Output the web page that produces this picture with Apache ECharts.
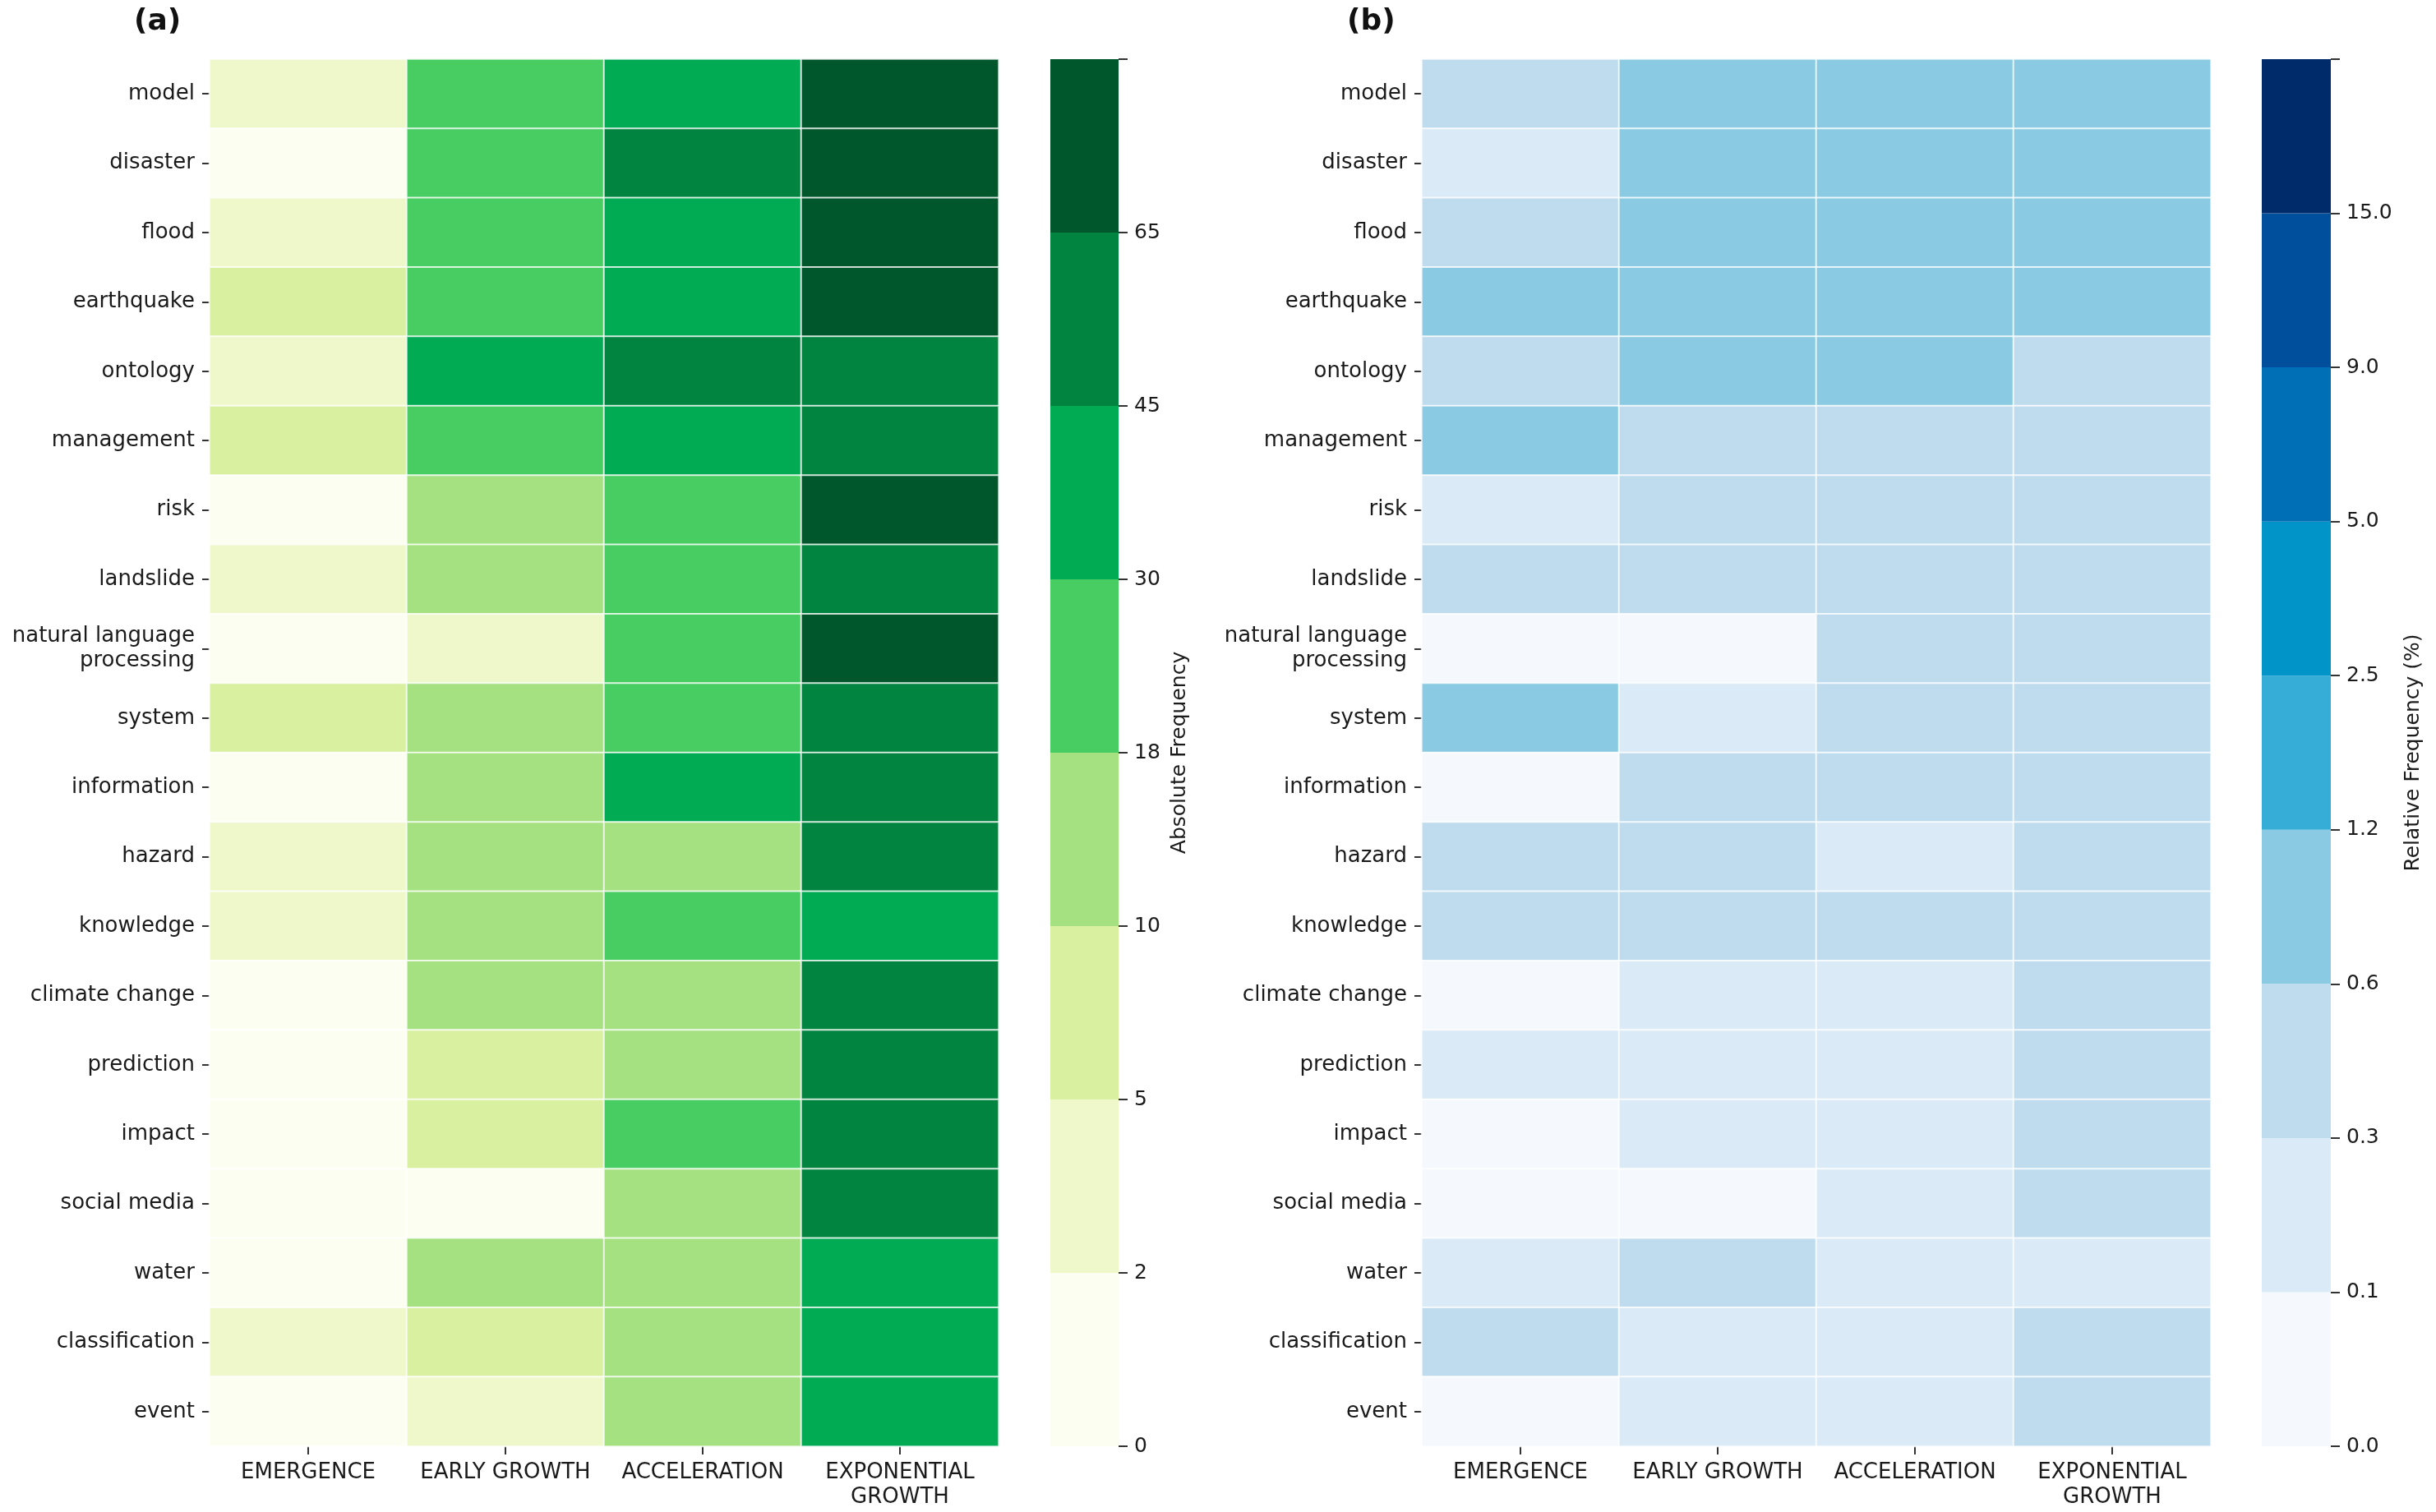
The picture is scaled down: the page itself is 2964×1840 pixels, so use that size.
<!DOCTYPE html>
<html><head><meta charset="utf-8">
<script src="https://cdn.jsdelivr.net/npm/echarts@6/dist/echarts.min.js"></script>
<style>html,body{margin:0;padding:0;background:#fff}#c{width:2964px;height:1840px}</style>
</head><body><div id="c"></div>
<script>
// ---- data ----
const terms = ['model','disaster','flood','earthquake','ontology','management','risk','landslide',
  'natural language\nprocessing','system','information','hazard','knowledge','climate change',
  'prediction','impact','social media','water','classification','event'];
const phases = ['EMERGENCE','EARLY GROWTH','ACCELERATION','EXPONENTIAL\nGROWTH'];

// Absolute frequency per phase (same order as terms)
const absEmergence   = [3,1,4,6,3,7,1,4,1,8,1,3,3,1,1,0,0,1,4,1];
const absEarly       = [26,24,25,22,33,27,15,13,4,16,14,12,12,13,9,8,1,11,9,3];
const absAccel       = [40,52,38,36,50,41,28,25,23,24,34,16,20,15,14,21,12,13,12,11];
const absExponential = [80,76,73,71,56,60,69,58,67,52,55,49,42,54,50,48,47,40,37,35];

// Relative frequency (%) per phase
const relEmergence   = [0.45,0.2,0.5,0.9,0.45,1.0,0.15,0.5,0.05,1.1,0.05,0.45,0.42,0.05,0.15,0.0,0.0,0.2,0.5,0.05];
const relEarly       = [0.9,0.85,0.9,0.8,1.0,0.55,0.4,0.35,0.06,0.25,0.35,0.32,0.32,0.2,0.18,0.15,0.02,0.32,0.2,0.12];
const relAccel       = [0.85,0.9,0.8,0.75,0.95,0.5,0.45,0.4,0.4,0.38,0.5,0.25,0.32,0.24,0.22,0.28,0.2,0.2,0.18,0.18];
const relExponential = [0.8,0.75,0.7,0.7,0.55,0.58,0.5,0.45,0.48,0.4,0.42,0.36,0.31,0.4,0.36,0.35,0.35,0.29,0.32,0.34];

// colour bins
const boundsA = [0,2,5,10,18,30,45,65];
const colorsA = ['#fdfef2','#eff8cb','#d9f0a0','#a5e181','#48cd62','#00ab54','#00843f','#00572c'];
const boundsB = [0,0.1,0.3,0.6,1.2,2.5,5,9,15];
const colorsB = ['#f5f9fe','#dbeaf7','#bfdcef','#8acae2','#35add7','#0094c8','#006fb6','#004f9c','#002b6b'];

// ---- build ----
const FONT = 'DejaVu Sans';
const absCols = [absEmergence, absEarly, absAccel, absExponential];
const relCols = [relEmergence, relEarly, relAccel, relExponential];
const absData = [], relData = [];
absCols.forEach((col, x) => col.forEach((v, y) => absData.push([x, y, v])));
relCols.forEach((col, x) => col.forEach((v, y) => relData.push([x, y, v])));

function pieces(bounds, colors) {
  return bounds.map((b, i) => i < bounds.length - 1
    ? { gte: b, lt: bounds[i + 1], color: colors[i] }
    : { gte: b, color: colors[i] });
}

const tickStyle = { color: '#333', width: 2 };
function catX(gi) {
  return { type: 'category', gridIndex: gi, data: phases, position: 'bottom',
    axisLine: { show: false },
    axisTick: { show: true, alignWithLabel: true, length: 10, lineStyle: tickStyle },
    axisLabel: { interval: 0, fontSize: 26, color: '#1a1a1a', margin: 17, lineHeight: 30, fontFamily: FONT },
    splitLine: { show: false } };
}
function catY(gi) {
  return { type: 'category', gridIndex: gi, data: terms, inverse: true,
    axisLine: { show: false },
    axisTick: { show: true, alignWithLabel: true, length: 9, lineStyle: tickStyle },
    axisLabel: { interval: 0, fontSize: 26, color: '#1a1a1a', margin: 18, lineHeight: 30, fontFamily: FONT },
    splitLine: { show: false } };
}
function cbX(gi) {
  return { type: 'category', gridIndex: gi, data: ['cb'], show: false, boundaryGap: true };
}
function cbY(gi, bounds, fmt, name, gap) {
  return { type: 'value', gridIndex: gi, position: 'right', min: 0, max: bounds.length, interval: 1,
    axisLine: { show: false },
    axisTick: { show: true, length: 11, lineStyle: tickStyle },
    axisLabel: { fontSize: 25, color: '#1a1a1a', margin: 19, fontFamily: FONT,
      formatter: v => v < bounds.length ? fmt(bounds[v]) : '' },
    splitLine: { show: false },
    name: name, nameLocation: 'middle', nameRotate: 90, nameGap: gap,
    nameTextStyle: { fontSize: 25, color: '#1a1a1a', fontFamily: FONT } };
}

const cellStyle = { borderColor: 'rgba(255,255,255,0.75)', borderWidth: 2 };

const series = [
  { type: 'heatmap', xAxisIndex: 0, yAxisIndex: 0, data: absData, itemStyle: cellStyle, silent: true },
  { type: 'heatmap', xAxisIndex: 1, yAxisIndex: 1, data: relData, itemStyle: cellStyle, silent: true }
];
colorsA.forEach(c => series.push({ type: 'bar', xAxisIndex: 2, yAxisIndex: 2, stack: 'cbA',
  data: [1], barWidth: '100%', itemStyle: { color: c }, silent: true }));
colorsB.forEach(c => series.push({ type: 'bar', xAxisIndex: 3, yAxisIndex: 3, stack: 'cbB',
  data: [1], barWidth: '100%', itemStyle: { color: c }, silent: true }));

const option = {
  animation: false,
  backgroundColor: '#ffffff',
  textStyle: { fontFamily: FONT },
  title: [
    { text: '(a)', left: 158, top: 4, textStyle: { fontSize: 36, fontWeight: 'bold', color: '#111', fontFamily: FONT } },
    { text: '(b)', left: 1634, top: 4, textStyle: { fontSize: 36, fontWeight: 'bold', color: '#111', fontFamily: FONT } }
  ],
  grid: [
    { left: 255, top: 72, width: 960, height: 1688 },
    { left: 1730, top: 72, width: 960, height: 1688 },
    { left: 1278, top: 72, width: 83, height: 1688 },
    { left: 2752, top: 72, width: 84, height: 1688 }
  ],
  xAxis: [catX(0), catX(1), cbX(2), cbX(3)],
  yAxis: [catY(0), catY(1),
    cbY(2, boundsA, b => String(b), 'Absolute Frequency', 62),
    cbY(3, boundsB, b => b.toFixed(1), 'Relative Frequency (%)', 88)],
  visualMap: [
    { type: 'piecewise', show: false, seriesIndex: 0, dimension: 2, pieces: pieces(boundsA, colorsA) },
    { type: 'piecewise', show: false, seriesIndex: 1, dimension: 2, pieces: pieces(boundsB, colorsB) }
  ],
  series: series
};
const chart = echarts.init(document.getElementById('c'), null, { renderer: 'canvas' });
chart.setOption(option);
</script></body></html>
